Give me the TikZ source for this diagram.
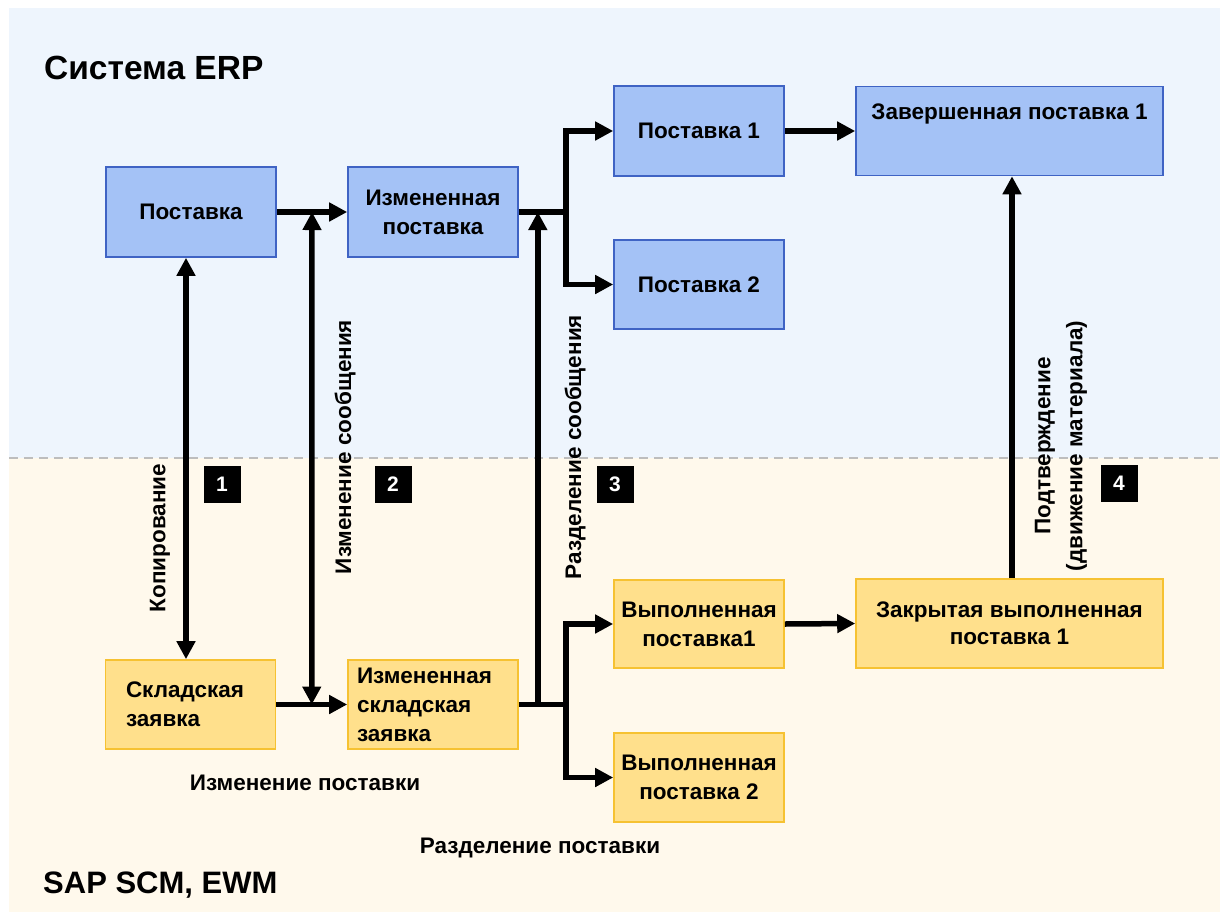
\documentclass[tikz,border=0pt]{standalone}
\usepackage{fontspec}
\setmainfont{Liberation Sans}
\usetikzlibrary{arrows.meta,calc}
\definecolor{bgtop}{HTML}{EEF5FD}
\definecolor{bgbot}{HTML}{FFF9EC}
\definecolor{bluefill}{HTML}{A4C2F6}
\definecolor{blueline}{HTML}{3F63C4}
\definecolor{yelfill}{HTML}{FFE08C}
\definecolor{yelline}{HTML}{F6C232}
\definecolor{dashgray}{HTML}{BDBDBD}
\newcommand\boxfont{\fontsize{22.5}{29}\selectfont\bfseries}
\newcommand\titlefont{\fontsize{33.5}{38}\selectfont\bfseries}
\newcommand\scmfont{\fontsize{31}{36}\selectfont\bfseries}
\begin{document}
\begin{tikzpicture}[x=1pt,y=-1pt,
  bluebox/.style={draw=blueline, fill=bluefill, line width=1.6pt, minimum width=170pt, minimum height=90pt, inner sep=0pt, font=\boxfont, align=center},
  yelbox/.style={draw=yelline, fill=yelfill, line width=1.6pt, minimum width=170pt, minimum height=89pt, inner sep=0pt, font=\boxfont, align=center},
  arr/.style={line width=5.5pt, line join=miter, -{Triangle[length=18pt,width=18pt]}},
  dblarr/.style={line width=5.5pt, {Triangle[length=18pt,width=18pt]}-{Triangle[length=18pt,width=18pt]}},
  conn/.style={line width=5.5pt, line join=miter},
  badge/.style={fill=black, minimum size=37pt, inner sep=0pt, text=white, font=\fontsize{21}{24}\selectfont\bfseries},
  lbl/.style={font=\boxfont, inner sep=0pt},
  title/.style={inner sep=0pt, anchor=west}]
\useasboundingbox (0,0) rectangle (1225,918);
% backgrounds
\fill[bgtop] (9,8) rectangle (1220,458);
\fill[bgbot] (9,458) rectangle (1220,912);
\draw[dashgray, line width=2.5pt, dash pattern=on 9pt off 6pt] (9,458) -- (1220,458);
% titles
\node[title, font=\titlefont] (erp) at (44,68) {Система ERP};
\node[title, font=\scmfont] (scm) at (43,885) {SAP SCM, EWM};
% ERP boxes
\node[bluebox] (post) at (191,212) {Поставка};
\node[bluebox] (ip) at (433,212) {Измененная\\поставка};
\node[bluebox] (p1) at (699,131) {Поставка 1};
\node[bluebox, minimum height=89pt] (p2) at (699,284.5) {Поставка 2};
\node[bluebox, minimum width=307pt, minimum height=89pt] (zp1) at (1009.5,131) {};
\node[lbl] (zp1t) at ($(zp1.north)+(0,28)$) {Завершенная поставка 1};
% SCM boxes
\node[yelbox, text width=129pt, align=left] (sz) at (190.5,704.5) {Складская\\заявка};
\node[yelbox, text width=152pt, align=left] (isz) at (433,704.5) {Измененная\\складская\\заявка};
\node[yelbox, minimum height=88pt] (vp1) at (699,624) {Выполненная\\поставка1};
\node[yelbox] (vp2) at (699,777.5) {Выполненная\\поставка 2};
\node[yelbox, minimum width=307pt, font=\fontsize{22.5}{27}\selectfont\bfseries] (zvp) at (1009.5,623.5) {Закрытая выполненная\\поставка 1};
% connectors
\draw[arr] (post.east) -- (ip.west);
\draw[arr] (sz.east) -- (isz.west);
\draw[arr] (p1.east) -- (zp1.west);
\draw[arr] (vp1.east) -- (zvp.west);
\draw[dblarr] ($(post.south)+(-5,0)$) -- ($(sz.north)+(-4.5,0)$);
\coordinate (m1) at ($(post.east)!0.5!(ip.west)$);
\coordinate (m2) at ($(sz.east)!0.5!(isz.west)$);
\draw[dblarr] (m1) -- (m2);
\coordinate (s1) at ($(ip.east)+(47,0)$);
\coordinate (s2) at ($(isz.east)+(47,0)$);
\draw[conn] (ip.east) -- ($(s1)+(2.75,0)$);
\draw[arr] (s1) |- (p1.west);
\draw[arr] (s1) |- (p2.west);
\draw[conn] (isz.east) -- ($(s2)+(2.75,0)$);
\draw[arr] (s2) |- (vp1.west);
\draw[arr] (s2) |- (vp2.west);
\draw[arr] ($(isz.east)+(19,0)$) -- ($(ip.east)+(19,0)$);
\draw[arr] ($(zvp.north)+(2.5,0)$) -- ($(zp1.south)+(2.5,0)$);
% rotated labels
\node[lbl, rotate=90] (l1) at (160,538) {Копирование};
\node[lbl, rotate=90] (l2) at (345,447) {Изменение сообщения};
\node[lbl, rotate=90] (l3) at (575,447) {Разделение сообщения};
\node[lbl, rotate=90, align=center, font=\fontsize{22.5}{32}\selectfont\bfseries] (l4) at (1061,446) {Подтверждение\\(движение материала)};
\node[lbl] (l5) at (305,783) {Изменение поставки};
\node[lbl] (l6) at (540,848) {Разделение поставки};
% badges
\node[badge] (b1) at (222,484) {1};
\node[badge] (b2) at (393,484) {2};
\node[badge] (b3) at (615,484) {3};
\node[badge] (b4) at (1119,483) {4};
\end{tikzpicture}
\end{document}
